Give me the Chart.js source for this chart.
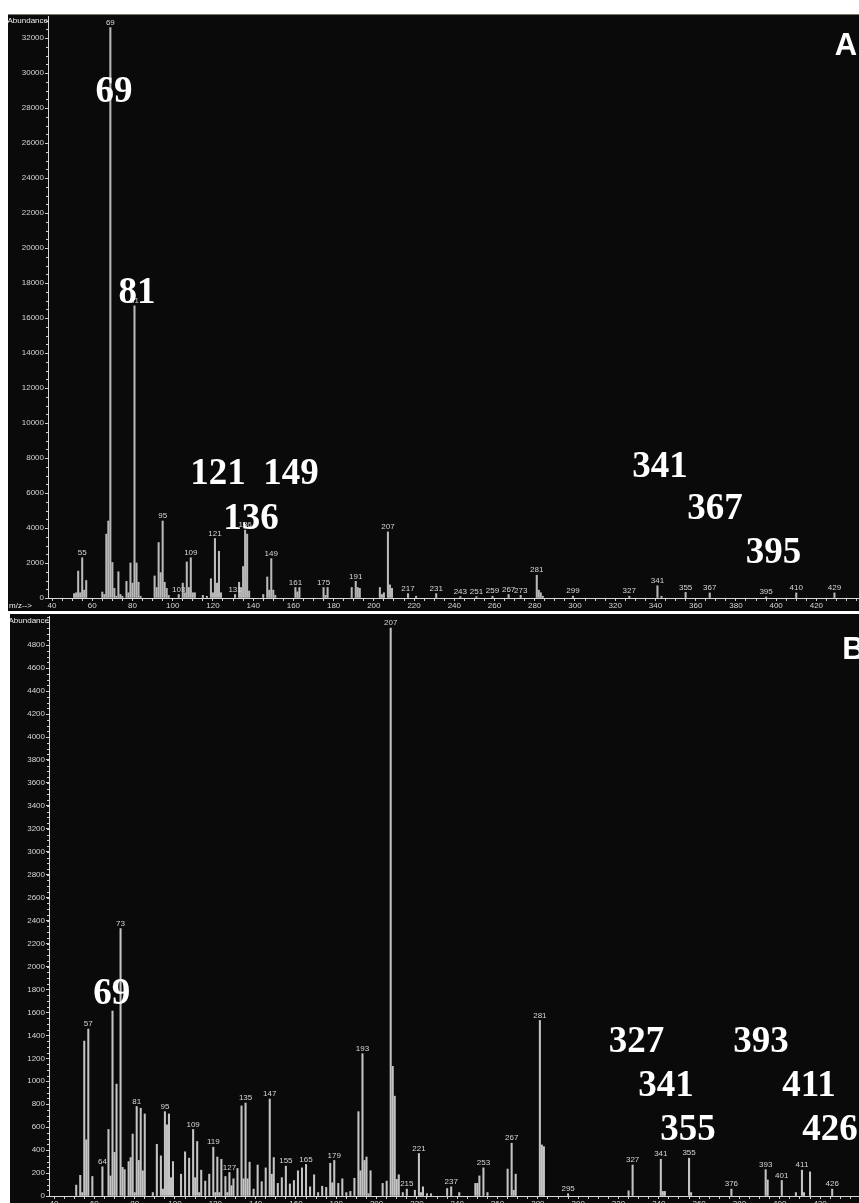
<!DOCTYPE html>
<html>
<head>
<meta charset="utf-8">
<script src="https://cdn.jsdelivr.net/npm/chart.js@4.4.1/dist/chart.umd.min.js"></script>
<style>
  html, body { margin: 0; padding: 0; background: #ffffff; width: 859px; height: 1203px; overflow: hidden; }
  .panel { position: absolute; background: #0a0a0a; }
  #panelA { left: 8px; top: 14px; width: 851px; height: 597px; border-top: 1px solid #7d776b; box-sizing: border-box; }
  #panelB { left: 10px; top: 614px; width: 849px; height: 589px; }
  canvas { display: block; }
</style>
</head>
<body>
<div id="panelA" class="panel"><canvas id="chartA" width="851" height="596"></canvas></div>
<div id="panelB" class="panel"><canvas id="chartB" width="849" height="589"></canvas></div>

<script>
// ---- Spectrum A ----
const mzA = [51, 52, 53, 54, 55, 56, 57, 65, 66, 67, 68, 69, 70, 71, 72, 73, 74, 75, 77, 78, 79, 80, 81, 82, 83, 84,
  91, 92, 93, 94, 95, 96, 97, 98, 103, 105, 106, 107, 108, 109, 110, 111, 115, 117, 119, 120, 121, 122, 123, 124,
  131, 133, 134, 135, 136, 137, 138, 145, 147, 148, 149, 150, 151, 161, 162, 163, 175, 176, 177, 189, 191, 192, 193,
  203, 204, 205, 207, 208, 209, 217, 221, 231, 243, 251, 259, 267, 273, 281, 282, 283, 284, 299, 327, 341, 343,
  355, 367, 395, 410, 429];
const abundanceA = [250, 300, 1540, 300, 2300, 450, 1000, 340, 200, 3650, 4400, 32600, 2030, 550, 100, 1500, 200, 100, 950, 300, 2000, 850, 16700, 2000, 900, 100,
  1260, 600, 3170, 1450, 4400, 900, 550, 150, 200, 850, 300, 2060, 600, 2300, 300, 300, 150, 100, 1100, 300, 3400, 850, 2670, 300,
  200, 900, 600, 1800, 3880, 3650, 400, 200, 1200, 450, 2250, 450, 150, 600, 350, 600, 600, 150, 600, 600, 950, 600, 550,
  600, 200, 300, 3780, 750, 550, 250, 100, 250, 80, 80, 100, 200, 150, 1300, 450, 300, 100, 100, 100, 700, 100,
  320, 290, 60, 290, 290];
const labeledA = [55, 69, 81, 95, 103, 109, 121, 131, 136, 149, 161, 175, 191, 207, 217, 231, 243, 251, 259, 267, 273,
  281, 299, 327, 341, 355, 367, 395, 410, 429];
const yTicksA = [0, 2000, 4000, 6000, 8000, 10000, 12000, 14000, 16000, 18000, 20000, 22000, 24000, 26000, 28000, 30000, 32000];

// ---- Spectrum B ----
const mzB = [51, 53, 54, 55, 56, 57, 59, 64, 67, 68, 69, 70, 71, 73, 74, 75, 77, 78, 79, 80, 81, 82, 83, 84, 85, 89,
  91, 93, 94, 95, 96, 97, 98, 99, 103, 105, 107, 109, 110, 111, 112, 113, 115, 117, 119, 120, 121, 122, 123, 125, 126,
  127, 128, 129, 131, 133, 134, 135, 136, 137, 139, 141, 143, 145, 147, 148, 149, 151, 153, 155, 157, 159, 161, 163,
  165, 167, 169, 171, 173, 175, 177, 178, 179, 181, 183, 185, 187, 189, 191, 192, 193, 194, 195, 196, 197, 203, 205,
  207, 208, 209, 210, 211, 213, 215, 219, 221, 222, 223, 225, 227, 235, 237, 241, 249, 250, 251, 253, 255, 265, 267,
  268, 269, 281, 282, 283, 295, 325, 327, 341, 342, 343, 355, 356, 376, 393, 394, 401, 408, 411, 412, 415, 426];
const abundanceB = [95, 180, 30, 1350, 490, 1455, 170, 255, 580, 175, 1612, 380, 975, 2330, 250, 230, 300, 335, 540, 30, 780, 310, 765, 220, 715, 30,
  450, 350, 60, 735, 620, 715, 160, 300, 190, 385, 330, 580, 160, 475, 30, 225, 130, 190, 425, 30, 340, 30, 320, 170, 30,
  205, 90, 150, 240, 785, 150, 810, 150, 295, 60, 270, 125, 245, 845, 190, 335, 110, 160, 260, 105, 135, 220, 245,
  275, 80, 185, 30, 85, 75, 285, 115, 310, 110, 150, 30, 40, 155, 735, 220, 1240, 310, 340, 20, 220, 110, 130,
  4950, 1130, 870, 145, 185, 30, 60, 50, 370, 30, 80, 20, 20, 65, 80, 30, 110, 110, 175, 245, 30, 235, 460,
  50, 190, 1530, 445, 430, 20, 45, 270, 320, 40, 40, 330, 30, 60, 230, 140, 135, 30, 225, 30, 210, 60];
const labeledB = [57, 64, 73, 81, 95, 109, 119, 127, 135, 147, 155, 165, 179, 193, 207, 215, 221, 237, 253, 267, 281,
  295, 327, 341, 355, 376, 393, 401, 411, 426];
const yTicksB = [0, 200, 400, 600, 800, 1000, 1200, 1400, 1600, 1800, 2000, 2200, 2400, 2600, 2800, 3000, 3200, 3400,
  3600, 3800, 4000, 4200, 4400, 4600, 4800];

// m/z axis: a tick every 5, labelled every 20 up to 420
const xTickValues = [];
for (let v = 40; v <= 440; v += 5) xTickValues.push(v);
const xLabelValues = [40, 60, 80, 100, 120, 140, 160, 180, 200, 220, 240, 260, 280, 300, 320, 340, 360, 380, 400, 420];

// Large ion callouts written over each spectrum (text, m/z position, abundance of baseline)
const calloutsA = [
  { text: '69',  mz: 70.8,  at: 28350 },
  { text: '81',  mz: 82.3,  at: 16870 },
  { text: '121', mz: 122.5, at: 6525 },
  { text: '149', mz: 158.8, at: 6525 },
  { text: '136', mz: 138.9, at: 3954 },
  { text: '341', mz: 342.3, at: 6925 },
  { text: '367', mz: 369.6, at: 4525 },
  { text: '395', mz: 398.7, at: 2011 }
];
const calloutsB = [
  { text: '69',  mz: 68.6,  at: 1673 },
  { text: '327', mz: 328.9, at: 1251 },
  { text: '393', mz: 390.7, at: 1251 },
  { text: '341', mz: 343.6, at: 871 },
  { text: '411', mz: 414.5, at: 871 },
  { text: '355', mz: 354.5, at: 492 },
  { text: '426', mz: 424.9, at: 492 }
];

const SMALL_FONT = '"Liberation Sans", Arial, sans-serif';
const CALLOUT_FONT = 'bold 37px "Liberation Serif", "Times New Roman", serif';
const PANEL_FONT = 'bold 31px "Liberation Sans", Arial, sans-serif';

// Draws peak m/z labels, axis captions, minor ticks and the large callouts
const spectrumDecor = {
  id: 'spectrumDecor',
  afterDatasetsDraw(chart, args, opts) {
    const { ctx, chartArea } = chart;
    const x = chart.scales.x, y = chart.scales.y;
    const pts = chart.data.datasets[0].data;
    ctx.save();

    // minor ticks on the abundance axis
    ctx.strokeStyle = '#cfcfcf';
    ctx.lineWidth = 1;
    ctx.beginPath();
    for (let v = 0; v <= y.max; v += opts.minorY) {
      const py = Math.round(y.getPixelForValue(v)) + 0.5;
      ctx.moveTo(chartArea.left - 2, py);
      ctx.lineTo(chartArea.left, py);
    }
    ctx.stroke();

    // peak labels
    ctx.font = '8px ' + SMALL_FONT;
    ctx.fillStyle = '#d6d6d6';
    ctx.textAlign = 'center';
    ctx.textBaseline = 'bottom';
    opts.labeled.forEach(m => {
      const p = pts.find(d => d.x === m);
      if (!p) return;
      ctx.fillText(String(m), x.getPixelForValue(m), y.getPixelForValue(p.y) - 1);
    });

    // axis captions
    ctx.fillStyle = '#ececec';
    ctx.textAlign = 'right';
    ctx.textBaseline = 'top';
    ctx.fillText('Abundance', chartArea.left, chartArea.top + 1);
    if (opts.xCaption) {
      ctx.textAlign = 'left';
      ctx.fillText('m/z-->', 1, chartArea.bottom + 4);
    }

    // large callouts
    ctx.fillStyle = '#ffffff';
    ctx.textAlign = 'center';
    ctx.textBaseline = 'alphabetic';
    ctx.font = CALLOUT_FONT;
    opts.callouts.forEach(c => {
      ctx.fillText(c.text, x.getPixelForValue(c.mz), y.getPixelForValue(c.at));
    });
    ctx.font = PANEL_FONT;
    ctx.fillText(opts.panel.text, x.getPixelForValue(opts.panel.mz), y.getPixelForValue(opts.panel.at));
    ctx.restore();
  }
};

function makeSpectrum(canvasId, mz, abundance, cfg) {
  const points = mz.map((m, i) => ({ x: m, y: abundance[i] }));
  return new Chart(document.getElementById(canvasId), {
    type: 'bar',
    data: {
      datasets: [{
        data: points,
        backgroundColor: cfg.barColor,
        borderWidth: 0,
        barThickness: 1.4
      }]
    },
    options: {
      responsive: false,
      animation: false,
      devicePixelRatio: 1,
      layout: { padding: { top: cfg.padTop, left: 0, right: 0, bottom: 0 } },
      plugins: {
        legend: { display: false },
        tooltip: { enabled: false },
        spectrumDecor: cfg.decor
      },
      scales: {
        x: {
          type: 'linear',
          min: cfg.xMin,
          max: cfg.xMax,
          offset: false,
          afterBuildTicks: s => { s.ticks = xTickValues.filter(v => v <= cfg.xMax).map(v => ({ value: v })); },
          afterFit: s => { s.height = cfg.xHeight; s.paddingLeft = 0; s.paddingRight = 0; },
          ticks: {
            autoSkip: false,
            maxRotation: 0,
            padding: 0,
            color: '#d6d6d6',
            font: { family: SMALL_FONT, size: 8 },
            callback: v => (xLabelValues.includes(v) ? String(v) : '')
          },
          grid: { display: true, drawOnChartArea: false, drawTicks: true, tickLength: 3, tickColor: '#d0d0d0', offset: false },
          border: { display: true, color: '#d8d8d8', width: 1 }
        },
        y: {
          min: 0,
          max: cfg.yMax,
          afterBuildTicks: s => { s.ticks = cfg.yTicks.map(v => ({ value: v })); },
          afterFit: s => { s.width = cfg.yWidth; s.paddingTop = 0; s.paddingBottom = 0; },
          ticks: {
            padding: 1,
            color: '#d6d6d6',
            font: { family: SMALL_FONT, size: 8 },
            callback: v => String(v)
          },
          grid: { display: true, drawOnChartArea: false, drawTicks: true, tickLength: 3, tickColor: '#d0d0d0' },
          border: { display: true, color: '#d8d8d8', width: 1 }
        }
      }
    },
    plugins: [spectrumDecor]
  });
}

makeSpectrum('chartA', mzA, abundanceA, {
  barColor: '#b9b9b9',
  xMin: 38.0, xMax: 441.2,
  yMax: 33260, yTicks: yTicksA,
  yWidth: 40, xHeight: 13, padTop: 1,
  decor: {
    labeled: labeledA, callouts: calloutsA, minorY: 500, xCaption: true,
    panel: { text: 'A', mz: 434.7, at: 31010 }
  }
});

makeSpectrum('chartB', mzB, abundanceB, {
  barColor: '#c4c4c4',
  xMin: 37.5, xMax: 439.3,
  yMax: 5055, yTicks: yTicksB,
  yWidth: 39, xHeight: 7, padTop: 2,
  decor: {
    labeled: labeledB, callouts: calloutsB, minorY: 50, xCaption: false,
    panel: { text: 'B', mz: 436.5, at: 4680 }
  }
});
</script>
</body>
</html>
